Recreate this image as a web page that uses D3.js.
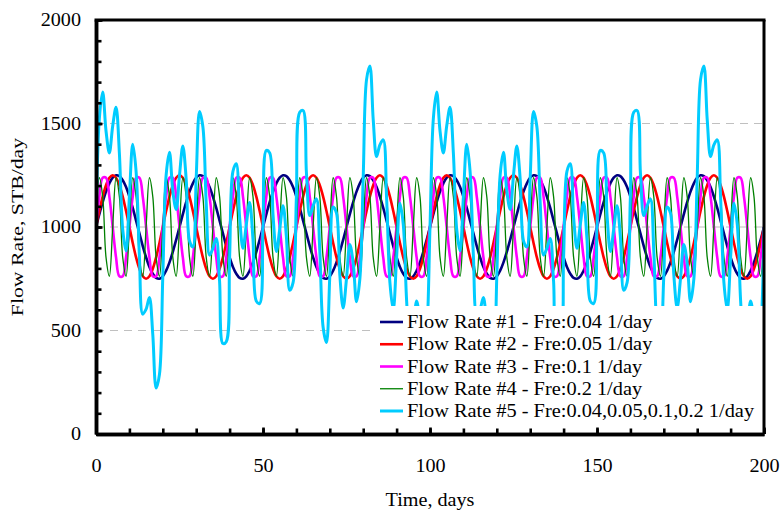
<!DOCTYPE html>
<html>
<head>
<meta charset="utf-8">
<script src="https://cdn.jsdelivr.net/npm/d3@7"></script>
<style>
  body { margin: 0; background: #fff; }
  text { font-family: "Liberation Serif", "Times New Roman", serif; fill: #000; }
</style>
</head>
<body>
<svg width="782" height="514"></svg>
<script>
// days 0..200, one sample per day
var days = d3.range(0, 201);

var flow1 = [
1000,1062,1120,1171,1211,1238,1250,1246,1226,1193,1147,1092,1031,969,908,853,807,774,754,750,762,789,829,880,938,
1000,1062,1120,1171,1211,1238,1250,1246,1226,1193,1147,1092,1031,969,908,853,807,774,754,750,762,789,829,880,938,
1000,1062,1120,1171,1211,1238,1250,1246,1226,1193,1147,1092,1031,969,908,853,807,774,754,750,762,789,829,880,938,
1000,1062,1120,1171,1211,1238,1250,1246,1226,1193,1147,1092,1031,969,908,853,807,774,754,750,762,789,829,880,938,
1000,1062,1120,1171,1211,1238,1250,1246,1226,1193,1147,1092,1031,969,908,853,807,774,754,750,762,789,829,880,938,
1000,1062,1120,1171,1211,1238,1250,1246,1226,1193,1147,1092,1031,969,908,853,807,774,754,750,762,789,829,880,938,
1000,1062,1120,1171,1211,1238,1250,1246,1226,1193,1147,1092,1031,969,908,853,807,774,754,750,762,789,829,880,938,
1000,1062,1120,1171,1211,1238,1250,1246,1226,1193,1147,1092,1031,969,908,853,807,774,754,750,762,789,829,880,938,
1000];

var flow2 = [
1000,1077,1147,1202,1238,1250,1238,1202,1147,1077,1000,923,853,798,762,750,762,798,853,923,
1000,1077,1147,1202,1238,1250,1238,1202,1147,1077,1000,923,853,798,762,750,762,798,853,923,
1000,1077,1147,1202,1238,1250,1238,1202,1147,1077,1000,923,853,798,762,750,762,798,853,923,
1000,1077,1147,1202,1238,1250,1238,1202,1147,1077,1000,923,853,798,762,750,762,798,853,923,
1000,1077,1147,1202,1238,1250,1238,1202,1147,1077,1000,923,853,798,762,750,762,798,853,923,
1000,1077,1147,1202,1238,1250,1238,1202,1147,1077,1000,923,853,798,762,750,762,798,853,923,
1000,1077,1147,1202,1238,1250,1238,1202,1147,1077,1000,923,853,798,762,750,762,798,853,923,
1000,1077,1147,1202,1238,1250,1238,1202,1147,1077,1000,923,853,798,762,750,762,798,853,923,
1000,1077,1147,1202,1238,1250,1238,1202,1147,1077,1000,923,853,798,762,750,762,798,853,923,
1000,1077,1147,1202,1238,1250,1238,1202,1147,1077,1000,923,853,798,762,750,762,798,853,923,
1000];

var flow3 = [
1000,1147,1238,1238,1147,1000,853,762,762,853, 1000,1147,1238,1238,1147,1000,853,762,762,853,
1000,1147,1238,1238,1147,1000,853,762,762,853, 1000,1147,1238,1238,1147,1000,853,762,762,853,
1000,1147,1238,1238,1147,1000,853,762,762,853, 1000,1147,1238,1238,1147,1000,853,762,762,853,
1000,1147,1238,1238,1147,1000,853,762,762,853, 1000,1147,1238,1238,1147,1000,853,762,762,853,
1000,1147,1238,1238,1147,1000,853,762,762,853, 1000,1147,1238,1238,1147,1000,853,762,762,853,
1000,1147,1238,1238,1147,1000,853,762,762,853, 1000,1147,1238,1238,1147,1000,853,762,762,853,
1000,1147,1238,1238,1147,1000,853,762,762,853, 1000,1147,1238,1238,1147,1000,853,762,762,853,
1000,1147,1238,1238,1147,1000,853,762,762,853, 1000,1147,1238,1238,1147,1000,853,762,762,853,
1000,1147,1238,1238,1147,1000,853,762,762,853, 1000,1147,1238,1238,1147,1000,853,762,762,853,
1000,1147,1238,1238,1147,1000,853,762,762,853, 1000,1147,1238,1238,1147,1000,853,762,762,853,
1000];

var flow4 = [
1000,1238,1147,853,762, 1000,1238,1147,853,762, 1000,1238,1147,853,762, 1000,1238,1147,853,762,
1000,1238,1147,853,762, 1000,1238,1147,853,762, 1000,1238,1147,853,762, 1000,1238,1147,853,762,
1000,1238,1147,853,762, 1000,1238,1147,853,762, 1000,1238,1147,853,762, 1000,1238,1147,853,762,
1000,1238,1147,853,762, 1000,1238,1147,853,762, 1000,1238,1147,853,762, 1000,1238,1147,853,762,
1000,1238,1147,853,762, 1000,1238,1147,853,762, 1000,1238,1147,853,762, 1000,1238,1147,853,762,
1000,1238,1147,853,762, 1000,1238,1147,853,762, 1000,1238,1147,853,762, 1000,1238,1147,853,762,
1000,1238,1147,853,762, 1000,1238,1147,853,762, 1000,1238,1147,853,762, 1000,1238,1147,853,762,
1000,1238,1147,853,762, 1000,1238,1147,853,762, 1000,1238,1147,853,762, 1000,1238,1147,853,762,
1000,1238,1147,853,762, 1000,1238,1147,853,762, 1000,1238,1147,853,762, 1000,1238,1147,853,762,
1000,1238,1147,853,762, 1000,1238,1147,853,762, 1000,1238,1147,853,762, 1000,1238,1147,853,762,
1000];

var flow5 = [
1000,1524,1652,1464,1358,1488,1579,1357,988,885,
1147,1400,1269,858,579,603,660,481,222,288,
762,1251,1361,1173,1085,1250,1391,1231,933,903,
1238,1558,1484,1115,864,897,945,738,437,446,
853,1269,1306,1047,897,1012,1118,940,642,630,
1000,1370,1358,1060,882,988,1103,953,694,731,
1147,1554,1563,1262,1055,1103,1136,885,516,442,
762,1097,1067,769,609,750,915,827,639,749,
1238,1712,1778,1519,1340,1397,1421,1142,731,600,
853,1115,1012,643,421,512,642,536,348,476,
1000,1524,1652,1464,1358,1488,1579,1357,988,885,
1147,1400,1269,858,579,603,660,481,222,288,
762,1251,1361,1173,1085,1250,1391,1231,933,903,
1238,1558,1484,1115,864,897,945,738,437,446,
853,1269,1306,1047,897,1012,1118,940,642,630,
1000,1370,1358,1060,882,988,1103,953,694,731,
1147,1554,1563,1262,1055,1103,1136,885,516,442,
762,1097,1067,769,609,750,915,827,639,749,
1238,1712,1778,1519,1340,1397,1421,1142,731,600,
853,1115,1012,643,421,512,642,536,348,476,
1000];

var seriesNames = [
  "Flow Rate #1 - Fre:0.04 1/day",
  "Flow Rate #2 - Fre:0.05 1/day",
  "Flow Rate #3 - Fre:0.1 1/day",
  "Flow Rate #4 - Fre:0.2 1/day",
  "Flow Rate #5 - Fre:0.04,0.05,0.1,0.2 1/day"
];
var xTicks = [0, 50, 100, 150, 200];
var yTicks = [0, 500, 1000, 1500, 2000];
var yGrid = [500, 1000, 1500];

var colors = ["#000080", "#ff0000", "#ff00ff", "#008000", "#00ccff"];
var widths = [2.6, 2.6, 2.6, 1.3, 3];
var allSeries = [flow1, flow2, flow3, flow4, flow5];

var svg = d3.select("svg");
var pL = 96, pR = 764, pT = 20, pB = 434;

var x = d3.scaleLinear().domain([0, 200]).range([pL, pR]);
var y = d3.scaleLinear().domain([0, 2000]).range([pB, pT]);

// widen text a bit, the source fonts render wider than Liberation Serif
function stretch(sel, k) {
  sel.each(function () {
    var n = this.getComputedTextLength();
    this.setAttribute("textLength", n * k);
    this.setAttribute("lengthAdjust", "spacingAndGlyphs");
  });
}

svg.append("rect").attr("width", 782).attr("height", 514).attr("fill", "#fff");

// dashed grid
svg.selectAll(".grid")
  .data(yGrid)
  .enter()
  .append("line")
  .attr("x1", pL).attr("x2", pR)
  .attr("y1", function (d) { return y(d); })
  .attr("y2", function (d) { return y(d); })
  .attr("stroke", "#c0c0c0")
  .attr("stroke-width", 1)
  .attr("stroke-dasharray", "8,6");

svg.append("clipPath").attr("id", "clip")
  .append("rect").attr("x", pL).attr("y", pT)
  .attr("width", pR - pL).attr("height", pB - pT);

var line = d3.line()
  .x(function (d, i) { return x(days[i]); })
  .y(function (d) { return y(d); })
  .curve(d3.curveCatmullRom);

svg.append("g").attr("clip-path", "url(#clip)")
  .selectAll("path")
  .data(allSeries)
  .enter()
  .append("path")
  .attr("d", function (d) { return line(d); })
  .attr("fill", "none")
  .attr("stroke", function (d, i) { return colors[i]; })
  .attr("stroke-width", function (d, i) { return widths[i]; })
  .attr("stroke-linejoin", "round");

// legend (white box hides the lines behind it)
var lg = svg.append("g");
lg.append("rect").attr("x", 376).attr("y", 306).attr("width", pR - 376).attr("height", pB - 306).attr("fill", "#fff");
var rowY = d3.scaleLinear().domain([0, 4]).range([322, 411]);
var items = lg.selectAll(".item")
  .data(seriesNames)
  .enter()
  .append("g")
  .attr("transform", function (d, i) { return "translate(0," + rowY(i) + ")"; });
items.append("line")
  .attr("x1", 380).attr("x2", 403)
  .attr("stroke", function (d, i) { return colors[i]; })
  .attr("stroke-width", function (d, i) { return widths[i]; });
items.append("text")
  .attr("x", 407).attr("y", 6)
  .attr("font-size", 18.5)
  .text(function (d) { return d; })
  .call(stretch, 1.1);

// axes
var fmt = d3.format("d");
var yMinor = svg.append("g").attr("transform", "translate(" + pL + ",0)")
  .call(d3.axisLeft(y).ticks(20).tickSizeInner(-5.5).tickSizeOuter(0).tickFormat(""));
var yMajor = svg.append("g").attr("transform", "translate(" + pL + ",0)")
  .call(d3.axisLeft(y).tickValues(yTicks).tickFormat(fmt).tickSizeInner(-6.5).tickSizeOuter(0).tickPadding(15));
var xMinor = svg.append("g").attr("transform", "translate(0," + pB + ")")
  .call(d3.axisBottom(x).ticks(20).tickSizeInner(-5.5).tickSizeOuter(0).tickFormat(""));
var xMajor = svg.append("g").attr("transform", "translate(0," + pB + ")")
  .call(d3.axisBottom(x).tickValues(xTicks).tickFormat(fmt).tickSizeInner(-6.5).tickSizeOuter(0).tickPadding(25));

svg.selectAll(".tick line").attr("stroke", "#000").attr("stroke-width", 2.6);
svg.selectAll(".domain").attr("stroke", "#000").attr("stroke-width", 3.5);
[yMajor, xMajor].forEach(function (a) {
  a.selectAll("text").attr("font-size", 18).attr("font-family", "Liberation Serif").call(stretch, 1.12);
});

// frame top and right
svg.append("line").attr("x1", pL - 1.5).attr("x2", pR + 1.5).attr("y1", pT).attr("y2", pT)
  .attr("stroke", "#000").attr("stroke-width", 3);
svg.append("line").attr("x1", pR).attr("x2", pR).attr("y1", pT).attr("y2", pB)
  .attr("stroke", "#000").attr("stroke-width", 3);

// titles
svg.append("text")
  .attr("transform", "translate(23," + ((pT + pB) / 2) + ") rotate(-90)")
  .attr("text-anchor", "middle")
  .attr("font-size", 17)
  .text("Flow Rate, STB/day")
  .call(stretch, 1.28);
svg.append("text")
  .attr("x", (pL + pR) / 2).attr("y", 506)
  .attr("text-anchor", "middle")
  .attr("font-size", 18)
  .text("Time, days")
  .call(stretch, 1.12);
</script>
</body>
</html>
